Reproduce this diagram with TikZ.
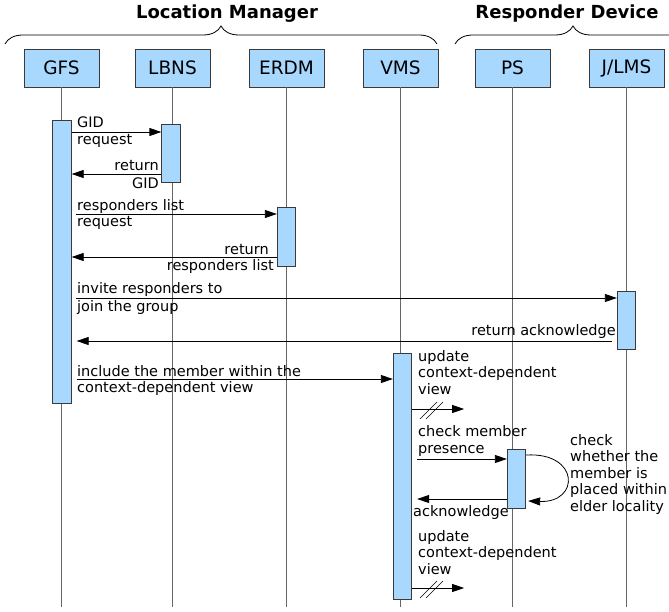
\documentclass[tikz,border=0pt]{standalone}
\usepackage{fontspec}
\setmainfont{DejaVu Sans}
\usetikzlibrary{arrows.meta,decorations.pathreplacing,calc}
\definecolor{boxblue}{HTML}{A9D8FF}
\definecolor{edge}{HTML}{3A3A3A}
\begin{document}
\begin{tikzpicture}[x=1pt,y=-1pt,
  font=\fontsize{14.5}{16.4}\selectfont,
  hdr/.style={draw=edge,fill=boxblue,line width=0.8pt,minimum width=75pt,minimum height=38pt,inner sep=0pt,font=\fontsize{18.5}{20}\selectfont},
  bar/.style={draw=edge,fill=boxblue,line width=0.8pt,minimum width=18.5pt,inner sep=0pt},
  life/.style={draw=gray!80!black,line width=0.6pt},
  msg/.style={draw=black,line width=0.8pt,-{Triangle[length=12pt,width=8pt]}},
  lbl/.style={inner sep=0pt,align=left},
  brc/.style={decorate,decoration={brace,amplitude=18pt},line width=0.8pt},
  ttl/.style={font=\fontsize{18}{20}\selectfont\bfseries,inner sep=0pt,anchor=base}]
\useasboundingbox (0,0) rectangle (669,612);
% headers
\node[hdr] (gfs) at (61.5,68) {GFS};
\node[hdr] (lbns) at (172.5,68) {LBNS};
\node[hdr] (erdm) at (286.5,68) {ERDM};
\node[hdr] (vms) at (400.5,68) {VMS};
\node[hdr] (ps) at (512.5,68) {PS};
\node[hdr] (jlms) at (626.5,68) {J/LMS};
% lifelines
\foreach \n in {gfs,lbns,erdm,vms,ps,jlms}{
  \coordinate (\n end) at ($(\n.south)+(0,520)$);
  \draw[life] (\n.south) -- (\n end);
}
% braces and titles
\coordinate (lmL) at (5,44); \coordinate (lmR) at (437,44);
\draw[brc] (lmL) -- (lmR);
\node[ttl] (lm) at (227,19) {Location Manager};
\coordinate (rdL) at (455,44); \coordinate (rdR) at (691,44);
\draw[brc] (rdL) -- (rdR);
\node[ttl] (rd) at (567,19) {Responder Device};
% activation bars
\node[bar,minimum height=283pt] (gfsA) at (62,261.5) {};
\node[bar,minimum height=58pt] (lbnsA) at (171,153) {};
\node[bar,minimum height=59pt] (erdmA) at (286.5,236.5) {};
\node[bar,minimum height=58pt] (jlmsA) at (626.5,320) {};
\node[bar,minimum height=246pt] (vmsA) at (402.5,476) {};
\node[bar,minimum height=59pt] (psA) at (516.5,478.5) {};
% GID request
\draw[msg] (gfsA.east |- 0,132) -- (lbnsA.west |- 0,132);
\node[lbl,anchor=base west] (t1) at (77,128) {GID};
\node[lbl,anchor=base west] (t1b) at (77,145) {request};
% return GID
\draw[msg] (lbnsA.west |- 0,174) -- (gfsA.east |- 0,174);
\node[lbl,anchor=base east] (t2) at (159,171) {return};
\node[lbl,anchor=base east] (t2b) at (159,189) {GID};
% responders list request
\draw[msg] ($(gfsA.east |- 0,214)+(4,0)$) -- (erdmA.west |- 0,214);
\node[lbl,anchor=base west] (t3) at (77,211) {responders list};
\node[lbl,anchor=base west] (t3b) at (77,227) {request};
% return responders list
\draw[msg] (erdmA.west |- 0,257) -- (gfsA.east |- 0,257);
\node[lbl,anchor=base east] (t4) at (269,255) {return};
\node[lbl,anchor=base east] (t4b) at (274,271) {responders list};
% invite
\draw[msg] ($(gfsA.east |- 0,298)+(4,0)$) -- (jlmsA.west |- 0,298);
\node[lbl,anchor=base west] (t5) at (77,294) {invite responders to};
\node[lbl,anchor=base west] (t5b) at (77,311) {join the group};
% return acknowledge
\draw[msg] ($(jlmsA.west |- 0,341)+(-5,0)$) -- ($(gfsA.east |- 0,341)+(5,0)$);
\node[lbl,anchor=base east] (t6) at (616,335) {return acknowledge};
% include member
\draw[msg] ($(gfsA.east |- 0,379)+(5,0)$) -- (vmsA.west |- 0,379);
\node[lbl,anchor=base west] (t7) at (77,376) {include the member within the};
\node[lbl,anchor=base west] (t7b) at (77,392) {context-dependent view};
% update view 1
\node[lbl,anchor=base west] (t8) at (418,394) {update\\context-dependent\\view};
\coordinate (u1) at ($(vmsA.east |- 0,409)+(52,0)$);
\draw[msg] (vmsA.east |- 0,409) -- (u1);
\draw[line width=0.6pt] (420,419) -- (437,402) (426,419) -- (443,402);
% check member presence
\draw[msg] ($(vmsA.east |- 0,459)+(5,0)$) -- (psA.west |- 0,459);
\node[lbl,anchor=base west] (t9) at (418,453) {check member\\presence};
% self loop
\draw[msg] (psA.east |- 0,455) .. controls (580,452) and (580,503) .. ($(psA.east |- 0,501)+(2,0)$);
\node[lbl,anchor=base west] (t10) at (570,511) {check\\whether the\\member is\\placed within\\elder locality};
% acknowledge
\draw[msg] (psA.west |- 0,499) -- ($(vmsA.east |- 0,499)+(5,0)$);
\node[lbl,anchor=base west] (t11) at (413,516) {acknowledge};
% update view 2
\node[lbl,anchor=base west] (t12) at (418,574) {update\\context-dependent\\view};
\coordinate (u2) at ($(vmsA.east |- 0,588)+(52,0)$);
\draw[msg] (vmsA.east |- 0,588) -- (u2);
\draw[line width=0.6pt] (420,598) -- (437,581) (426,598) -- (443,581);
\end{tikzpicture}
\end{document}
